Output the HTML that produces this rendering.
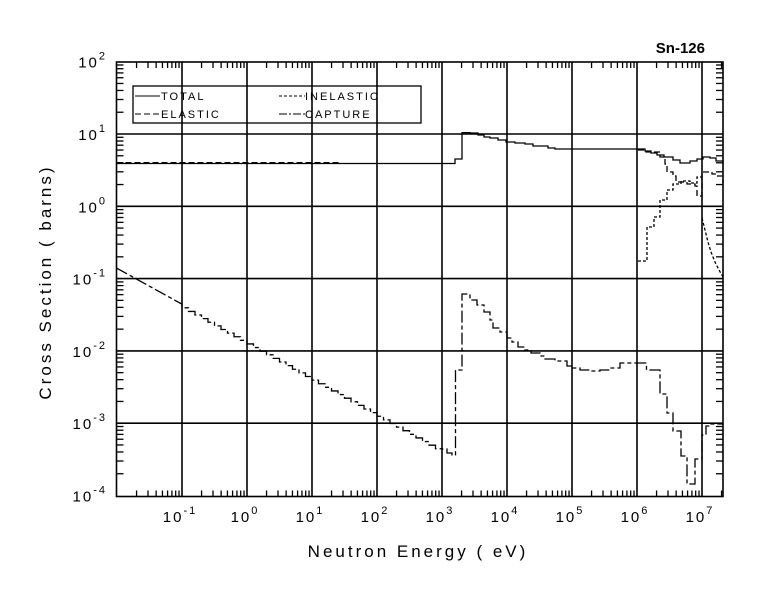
<!DOCTYPE html>
<html><head><meta charset="utf-8"><style>
html,body{margin:0;padding:0;background:#fff;}
svg{display:block;}
text{font-family:"Liberation Sans",sans-serif;fill:#000;}
</style></head><body>
<svg id="s" width="780" height="590" viewBox="0 0 780 590" xmlns="http://www.w3.org/2000/svg">
<rect width="780" height="590" fill="#fff"/>
<g id="g" stroke="#000" stroke-width="1.3" fill="none"></g>
<text x="705" y="53" text-anchor="end" font-weight="bold" font-size="15">Sn-126</text>
<text transform="translate(51,282) rotate(-90)" text-anchor="middle" font-size="17" letter-spacing="3" font-weight="300">Cross Section ( barns)</text>
<text x="418" y="557" text-anchor="middle" font-size="17" letter-spacing="3">Neutron Energy (  eV)</text>
<rect x="133" y="86" width="288" height="37" fill="none" stroke="#000" stroke-width="1.3"/>
<line x1="135" y1="96" x2="160" y2="96" stroke="#000"/>
<text x="161" y="100" font-size="11" letter-spacing="2">TOTAL</text>
<line x1="135" y1="114" x2="160" y2="114" stroke="#000" stroke-dasharray="6,3"/>
<text x="161" y="118" font-size="11" letter-spacing="2">ELASTIC</text>
<line x1="279" y1="96" x2="305" y2="96" stroke="#000" stroke-dasharray="3,2"/>
<text x="305" y="100" font-size="11" letter-spacing="2">INELASTIC</text>
<line x1="279" y1="114" x2="305" y2="114" stroke="#000" stroke-dasharray="8,2,2,2"/>
<text x="305" y="118" font-size="11" letter-spacing="2">CAPTURE</text>
</svg>
<script>
var g=document.getElementById('g'),s=document.getElementById('s');
var L=116.5,R=723,T=62,B=496.5;
function X(l){return 247+65*l;} function Y(l){return 206.3-72.3*l;}
var h='';
function ln(a,b,c,d,st){h+='<line x1="'+a+'" y1="'+b+'" x2="'+c+'" y2="'+d+'"'+(st||'')+'/>';}
h+='<rect x="'+L+'" y="'+T+'" width="'+(R-L)+'" height="'+(B-T)+'" stroke-width="1.6"/>';
for(var d=-1;d<=7;d++){var x=X(d);ln(x,T,x,B,' stroke-width="1.6"');}
for(var d=-4;d<=2;d++){var y=Y(d);if(d>-4&&d<2)ln(L,y,R,y,' stroke-width="1.6"');}
for(var d=-3;d<=7;d++)for(var m=2;m<10;m++){var x=X(d+Math.log10(m));if(x>L&&x<R){ln(x,B,x,B-6);ln(x,T,x,T+6);}}
for(var d=-4;d<2;d++)for(var m=2;m<10;m++){var y=Y(d+Math.log10(m));ln(L,y,L+7,y);ln(R,y,R-7,y);}
function poly(p,st){h+='<polyline points="'+p.join(' ')+'"'+(st||'')+'/>';}
function steps(pts){var o=[];for(var i=0;i<pts.length;i++){var p=pts[i];if(i>0)o.push(p[0]+','+pts[i-1][1]);o.push(p[0]+','+p[1]);}return o;}
poly(steps([[L,163.5],[455,163.5],[455,159],[462,159],[462,132.7],[470,133],[478,135],[484,137],[490,138],[498,140],[506,142],[515,143],[525,144],[533,146],[548,148],[555,149],[638,149],[645,151],[651,153],[657,155],[664,157],[673,160],[680,163],[690,161],[697,159],[703,157],[710,158],[716,161],[723,164]]));
poly(steps([[L,162.7],[340,162.7]]),' stroke-dasharray="6,3"');
poly(steps([[638,150],[646,152],[660,157],[665,164],[667,172],[673,176],[676,182],[687,184],[695,186],[697,196],[702,196],[702,172],[708,172],[712,174],[716,176],[723,183]]),' stroke-dasharray="6,3"');
poly(steps([[638,261],[647,227],[654,217],[660,200],[667,190],[673,184],[681,181],[690,183],[697,177],[702,177]]),' stroke-dasharray="3,2"');
poly(['702,218','705,230','708,242','711,252','715,262','719,270','723,277'],' stroke-dasharray="3,2"');
var c=[];var y0=Y(Math.log10(0.14));
c.push(L+','+y0);
var xs=X(-1);c.push(xs+','+(Y(Math.log10(0.14)-0.5*(-1+2))));
for(var l=-1;l<3.1;l+=0.1){var x1=X(l),x2=X(l+0.1);var yy=Y(Math.log10(0.14)-0.5*(l+0.1+2));if(x2>442)x2=442;c.push(x1+','+yy);c.push(x2+','+yy);if(x2>=442)break;}
var rest=steps([[442,449],[447,453],[452,455],[455.5,455],[455.5,370],[462,370],[462,294],[470,300],[477,305],[484,312],[490,320],[493,328],[500,332],[507,338],[512,342],[518,347],[525,350],[531,353],[540,356],[545,359],[555,361],[567,366],[572,368],[580,370],[590,371],[600,370],[610,368],[620,363],[638,363],[646.5,370],[660,394],[667,413],[673,431],[681,456],[687,484],[695,459],[702,435],[706,426],[710,424],[723,425]]);
poly(c.concat(rest),' stroke-dasharray="12,3,4,3"');
g.innerHTML=h;
var t='';
function lab(x,y,e,anc){t+='<text x="'+x+'" y="'+y+'" font-size="15" text-anchor="'+anc+'" letter-spacing="2">10<tspan dy="-8" font-size="11">'+e+'</tspan></text>';}
for(var d=-1;d<=7;d++)lab(X(d)-2,522,d,'middle');
for(var d=-4;d<=2;d++)lab(107,Y(d)+6,d,'end');
s.insertAdjacentHTML('beforeend',t);
</script>
</body></html>
